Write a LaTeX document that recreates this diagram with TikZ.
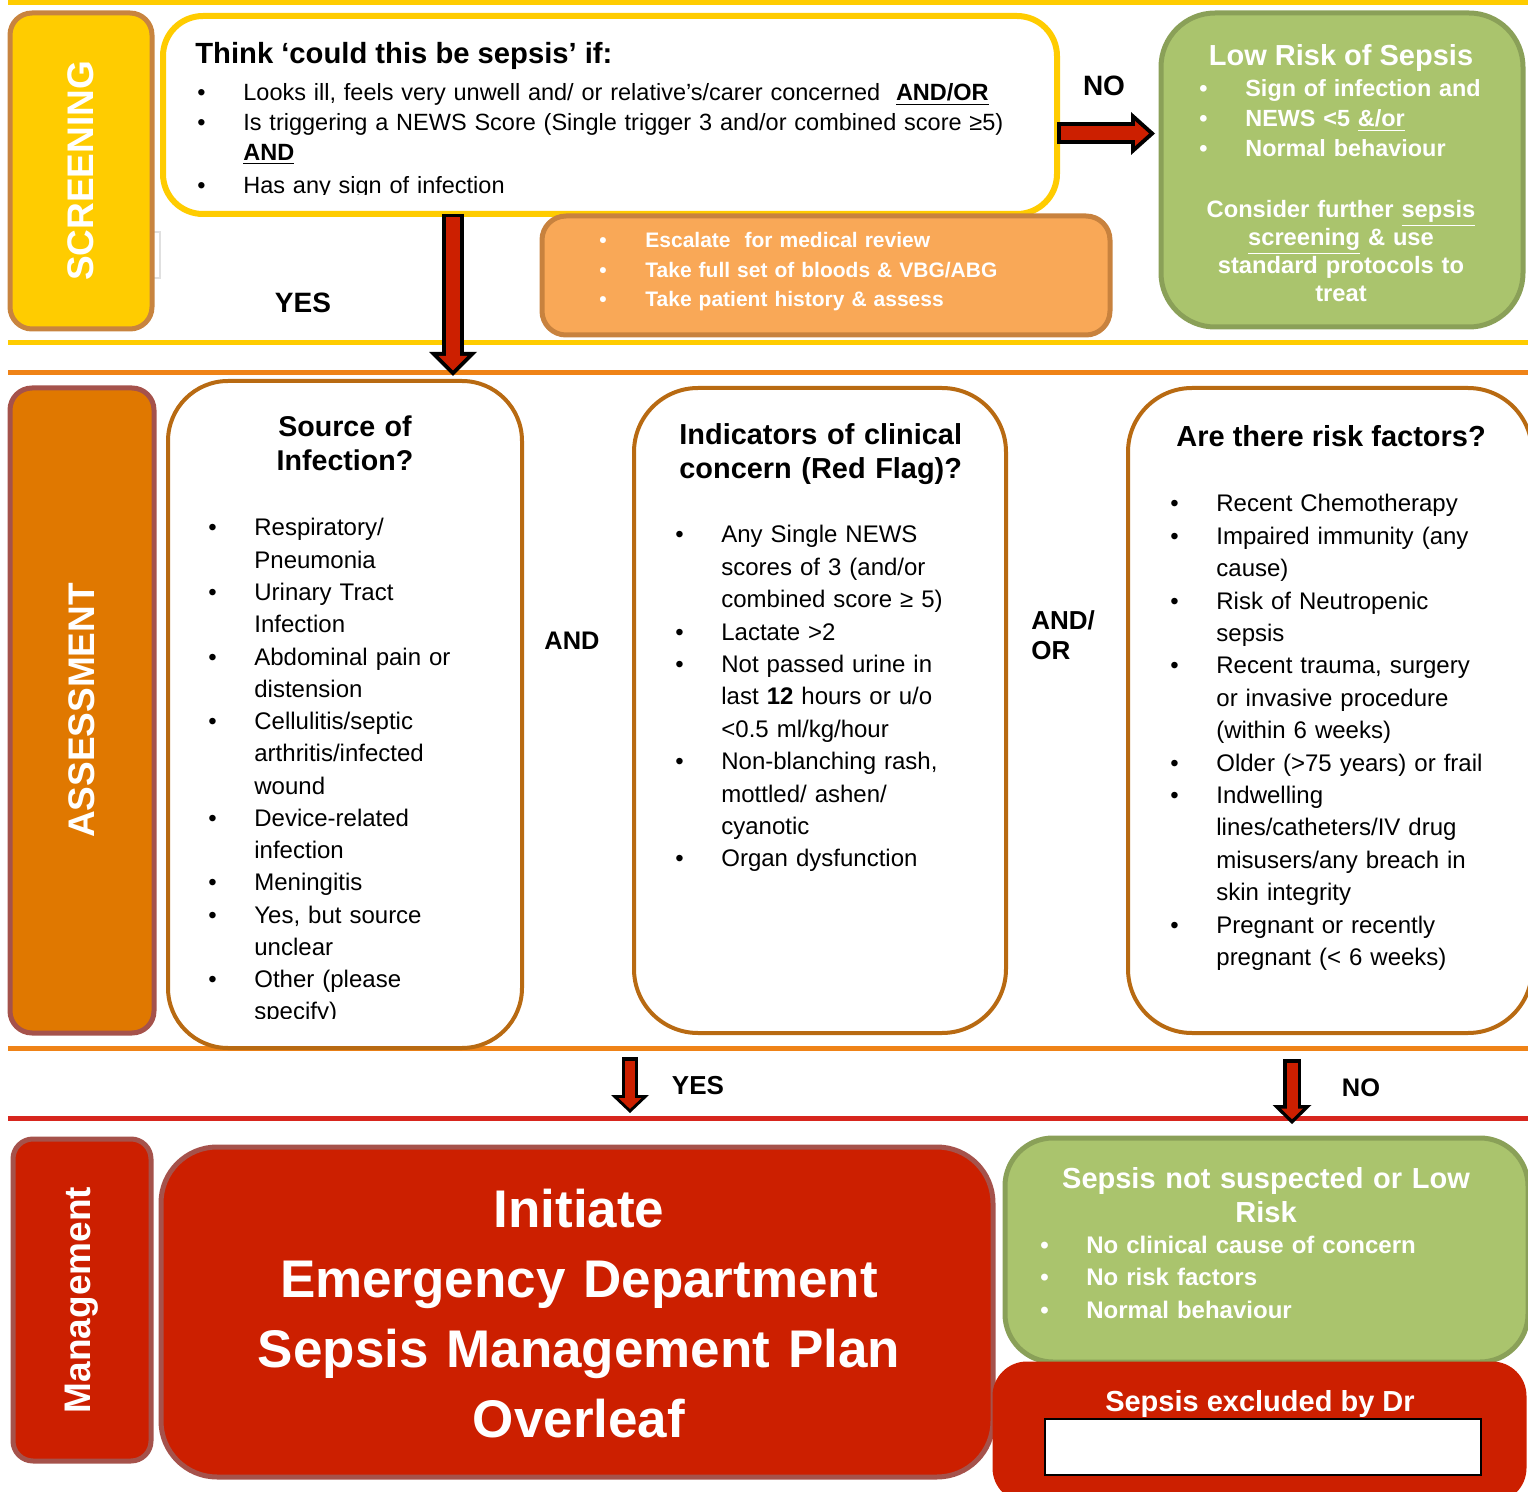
\documentclass[tikz,border=0pt]{standalone}
\usepackage{fontspec}
\setmainfont{Liberation Sans}
\usetikzlibrary{arrows.meta}

\definecolor{scryellow}{HTML}{FFCC00}
\definecolor{scrbrown}{HTML}{C8843F}
\definecolor{asorange}{HTML}{E07800}
\definecolor{asline}{HTML}{EF8317}
\definecolor{asbrown}{HTML}{B86A12}
\definecolor{mgred}{HTML}{CC1F00}
\definecolor{mgline}{HTML}{D7261E}
\definecolor{mgbrown}{HTML}{A5524B}
\definecolor{lowgreen}{HTML}{AAC46D}
\definecolor{lowgreenline}{HTML}{8AA058}
\definecolor{escorange}{HTML}{F9A857}
\definecolor{escbrown}{HTML}{C8823E}

\setlength{\parskip}{0pt}
% one bullet item with hanging indent
\newcommand{\itm}[1]{\hangindent=23pt\hangafter=1\noindent\makebox[23pt][l]{\textbullet}#1\par}

\tikzset{
  panel/.style={rectangle, inner sep=0pt, outer sep=0pt, line width=2.5pt},
  sidetext/.style={rotate=90, text=white, font=\fontsize{18.5}{22}\selectfont\bfseries},
  listtext/.style={anchor=base west, inner sep=0pt, text width=#1, align=left},
  midtext/.style={anchor=base, inner sep=0pt, text width=#1, align=center},
  flowlabel/.style={anchor=base, inner sep=0pt, font=\fontsize{#1}{15}\selectfont\bfseries},
  arrowout/.style n args={3}{draw=black, line width=#1, -{Triangle[width=#2, length=#3, line width=0pt]}},
  arrowin/.style n args={4}{draw=mgred, line width=#1, -{Triangle[width=#2, length=#3, line width=0pt]}, shorten >=#4, shorten <=1.75pt},
}

\begin{document}
\begin{tikzpicture}[x=0.5pt, y=-0.5pt]
\useasboundingbox (0,0) rectangle (1528,1492);
\clip (0,0) rectangle (1528,1492);

% section rules
\draw[scryellow, line width=2.5pt] (8,2.5) -- (1528,2.5);
\draw[scryellow, line width=2.5pt] (8,343) -- (1528,343);
\draw[asline, line width=2.5pt] (8,373) -- (1528,373);
\draw[asline, line width=2.5pt] (8,1048) -- (1528,1048);
\draw[mgline, line width=2.5pt] (8,1118) -- (1528,1118);

%% screening
\draw[black!12, line width=0.6pt] (150,232) rectangle (160,278);
\node[panel, sidetext, fill=scryellow, draw=scrbrown, rounded corners=11pt, minimum width=158pt, minimum height=71pt] (screen) at (81,171) {SCREENING};

\node[panel, fill=white, draw=scryellow, line width=3pt, rounded corners=20pt, minimum width=447pt, minimum height=99pt] (think) at (610,115) {};
\node[anchor=base west, inner sep=0pt, font=\fontsize{14.6}{17}\selectfont\bfseries] (thinktitle) at (195,64) {Think ‘could this be sepsis’ if:};
\begin{scope}
  \clip (160,20) rectangle (1055,195);
  \node[listtext=440pt, font=\fontsize{11.75}{15}\selectfont] (thinklist) at (197,101) {%
    \itm{Looks ill, feels very unwell and/ or relative’s/carer concerned\ \ \underline{\textbf{AND/OR}}}%
    \itm{Is triggering a NEWS Score (Single trigger 3 and/or combined score ≥5)\newline\underline{\textbf{AND}}}%
    \vspace{1.5pt}%
    \itm{Has any sign of infection}};
\end{scope}

\node[panel, fill=escorange, draw=escbrown, rounded corners=12pt, minimum width=284pt, minimum height=59.5pt] (escalate) at (826,275.5) {};
\node[listtext=270pt, text=white, font=\fontsize{10.5}{14.75}\selectfont\bfseries] (esclist) at (599,248) {%
  \itm{Escalate\ \ for medical review}%
  \itm{Take full set of bloods \& VBG/ABG}%
  \itm{Take patient history \& assess}};

\node[panel, fill=lowgreen, draw=lowgreenline, rounded corners=27pt, minimum width=181pt, minimum height=157pt] (lowrisk) at (1342,170) {};
\node[anchor=base, inner sep=0pt, text=white, font=\fontsize{14.5}{17}\selectfont\bfseries] (lowtitle) at (1341,66) {Low Risk of Sepsis};
\node[listtext=170pt, text=white, font=\fontsize{11.7}{15}\selectfont\bfseries] (lowlist) at (1199,97) {%
  \itm{Sign of infection and}%
  \itm{NEWS <5 \underline{\&/or}}%
  \itm{Normal behaviour}};
\node[midtext=175pt, text=white, font=\fontsize{11.85}{13.85}\selectfont\bfseries] (lownote) at (1341,218) {Consider further \underline{sepsis}\\\underline{screening} \& use\\standard protocols to\\treat};

\node[flowlabel=14] (yesscr) at (303,313) {YES};
\node[flowlabel=14] (noscr) at (1104,96) {NO};

% screening outcomes
\coordinate (yesend) at (453,376);
\coordinate (noend) at (1155,133.5);
\draw[arrowout={11pt}{24pt}{12pt}] (yesend |- think.south) -- (yesend);
\draw[arrowin={7pt}{14.3pt}{7.15pt}{2.85pt}] (yesend |- think.south) -- (yesend);
\draw[arrowout={11pt}{21.5pt}{12pt}] (think.east |- noend) -- (noend);
\draw[arrowin={7pt}{12.5pt}{7pt}{3pt}] (think.east |- noend) -- (noend);

%% assessment
\node[panel, sidetext, fill=asorange, draw=mgbrown, rounded corners=11pt, minimum width=322.5pt, minimum height=72pt] (assess) at (82,710.5) {ASSESSMENT};

\node[panel, fill=white, draw=asbrown, line width=2pt, rounded corners=30pt, minimum width=177pt, minimum height=333.5pt] (source) at (345,714.5) {};
\node[midtext=170pt, font=\fontsize{14.3}{17}\selectfont\bfseries] (sourcetitle) at (345,437) {Source of\\Infection?};
\begin{scope}
  \clip (170,500) rectangle (520,1018);
  \node[listtext=150pt, font=\fontsize{12}{16.13}\selectfont] (sourcelist) at (208,536) {%
    \itm{Respiratory/\newline Pneumonia}%
    \itm{Urinary Tract\newline Infection}%
    \itm{Abdominal pain or\newline distension}%
    \itm{Cellulitis/septic\newline arthritis/infected\newline wound}%
    \itm{Device-related\newline infection}%
    \itm{Meningitis}%
    \itm{Yes, but source\newline unclear}%
    \itm{Other (please\newline specify)}};
\end{scope}

\node[flowlabel=12.7] (andlbl) at (572,650) {AND};

\node[panel, fill=white, draw=asbrown, line width=2pt, rounded corners=32pt, minimum width=186pt, minimum height=322.5pt] (redflag) at (820,710.5) {};
\node[listtext=175pt, font=\fontsize{14.45}{16.75}\selectfont\bfseries] (redtitle) at (679,445) {Indicators of clinical\newline concern (Red Flag)?};
\node[listtext=170pt, font=\fontsize{12}{16.2}\selectfont] (redlist) at (675,543) {%
  \itm{Any Single NEWS\newline scores of 3 (and/or\newline combined score ≥ 5)}%
  \itm{Lactate >2}%
  \itm{Not passed urine in\newline last \textbf{12} hours or u/o\newline <0.5 ml/kg/hour}%
  \itm{Non-blanching rash,\newline mottled/ ashen/\newline cyanotic}%
  \itm{Organ dysfunction}};

\node[listtext=40pt, font=\fontsize{13}{15}\selectfont\bfseries] (andorlbl) at (1031,630) {AND/\newline OR};

\node[panel, fill=white, draw=asbrown, line width=2pt, rounded corners=32pt, minimum width=202pt, minimum height=322.5pt] (risk) at (1330,710.5) {};
\node[anchor=base west, inner sep=0pt, font=\fontsize{14.5}{17}\selectfont\bfseries] (risktitle) at (1176,447) {Are there risk factors?};
\node[listtext=170pt, font=\fontsize{12}{16.2}\selectfont] (risklist) at (1170,512) {%
  \itm{Recent Chemotherapy}%
  \itm{Impaired immunity (any\newline cause)}%
  \itm{Risk of Neutropenic\newline sepsis}%
  \itm{Recent trauma, surgery\newline or invasive procedure\newline (within 6 weeks)}%
  \itm{Older (>75 years) or frail}%
  \itm{Indwelling\newline lines/catheters/IV drug\newline misusers/any breach in\newline skin integrity}%
  \itm{Pregnant or recently\newline pregnant (< 6 weeks)}};

% assessment outcomes
\coordinate (yesfrom) at (630,1057);
\coordinate (yesto) at (630,1113);
\coordinate (nofrom) at (1292,1059);
\coordinate (noto) at (1292,1124);
\draw[arrowout={8pt}{19pt}{9pt}] (yesfrom) -- (yesto);
\draw[arrowin={5pt}{11.5pt}{5.45pt}{2.05pt}] (yesfrom) -- (yesto);
\draw[arrowout={9pt}{19.5pt}{9.5pt}] (nofrom) -- (noto);
\draw[arrowin={5.5pt}{11pt}{5.35pt}{2.4pt}] (nofrom) -- (noto);
\node[flowlabel=13] (yesas) at (698,1094) {YES};
\node[flowlabel=12.7] (noas) at (1361,1096) {NO};

%% management
\node[panel, sidetext, fill=mgred, draw=mgbrown, rounded corners=10pt, minimum width=161pt, minimum height=69pt] (manage) at (82,1300) {Management};

\node[panel, fill=mgred, draw=mgbrown, rounded corners=28pt, minimum width=416pt, minimum height=165pt] (plan) at (577,1312) {};
\node[midtext=400pt, text=white, font=\fontsize{26.5}{35}\selectfont\bfseries] (plantext) at (579,1227) {Initiate\\Emergency Department\\Sepsis Management Plan\\Overleaf};

\node[panel, fill=lowgreen, draw=lowgreenline, rounded corners=24pt, minimum width=261.5pt, minimum height=112pt] (notsus) at (1266.5,1250) {};
\node[midtext=255pt, text=white, font=\fontsize{14.5}{17}\selectfont\bfseries] (notsustitle) at (1266,1188) {Sepsis not suspected or Low\\Risk};
\node[listtext=230pt, text=white, font=\fontsize{12}{16.25}\selectfont\bfseries] (notsuslist) at (1040,1253) {%
  \itm{No clinical cause of concern}%
  \itm{No risk factors}%
  \itm{Normal behaviour}};

\node[panel, fill=mgred, draw=mgred, rounded corners=16pt, minimum width=264.5pt, minimum height=68pt] (excluded) at (1259.5,1432) {};
\node[flowlabel=14.5, text=white] (excltext) at (1260,1411) {Sepsis excluded by Dr};
\node[panel, fill=white, draw=black, line width=0.6pt, minimum width=218pt, minimum height=28pt] (drname) at (1263,1447) {};

\end{tikzpicture}
\end{document}
